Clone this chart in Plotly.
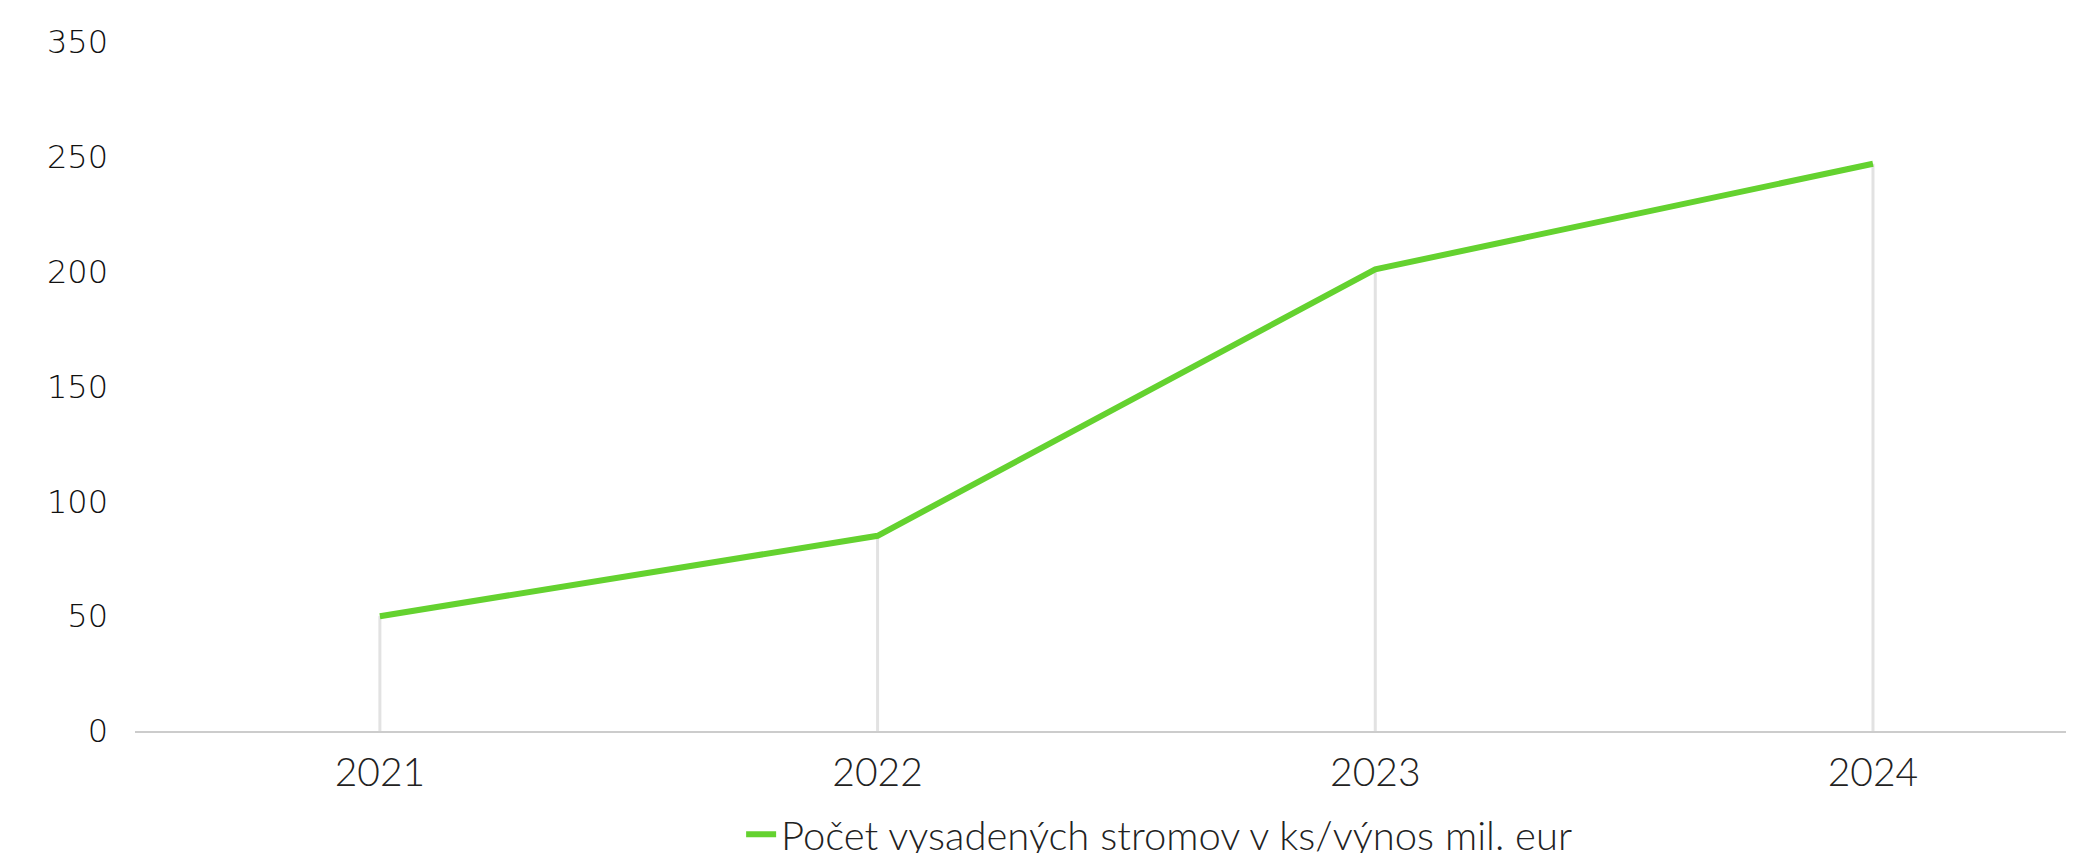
import plotly.graph_objects as go

# ===========================
# Data
# ===========================
roky = ['2021', '2022', '2023', '2024']
stromy = [50, 85, 201, 247]
y_tick_vals = [0, 50, 100, 150, 200, 250, 300]
y_tick_text = ['0', '50', '100', '150', '200', '250', '350']
nazov = 'Počet vysadených stromov v ks/výnos mil. eur'

fig = go.Figure()

# sive zvislé čiary od osi po bod
fig.add_trace(go.Scatter(
    x=roky, y=stromy, mode='markers',
    marker=dict(size=0.1, color='rgba(0,0,0,0)'),
    error_y=dict(type='data', symmetric=False, array=[0] * len(stromy),
                 arrayminus=stromy, width=0, thickness=3, color='#e2e2e2'),
    showlegend=False, hoverinfo='skip'
))

fig.add_trace(go.Scatter(
    x=roky, y=stromy, mode='lines', name=nazov,
    line=dict(color='#64d22f', width=6)
))

fig.update_layout(
    width=2074, height=853,
    margin=dict(l=127, r=0, t=34, b=130, autoexpand=False),
    plot_bgcolor='white', paper_bgcolor='white',
    showlegend=True,
    legend=dict(orientation='h', x=0.526, xanchor='center', y=-0.15, yanchor='middle',
                font=dict(family='Lato', size=40, color='#222', weight=300)),
    xaxis=dict(
        type='category', range=[-0.492, 3.42], showgrid=False,
        showline=True, linecolor='#cccccc', linewidth=2, ticks='',
        tickfont=dict(family='Lato', size=39, color='#222', weight=300),
        ticklabelstandoff=6
    ),
    yaxis=dict(
        range=[0, 300], tickvals=y_tick_vals, ticktext=y_tick_text,
        showgrid=False, zeroline=False, showline=False,
        tickfont=dict(family='DejaVu Sans', size=32, color='#111', weight=300),
        ticklabelstandoff=26
    ),
)

fig.write_html('out.html')
